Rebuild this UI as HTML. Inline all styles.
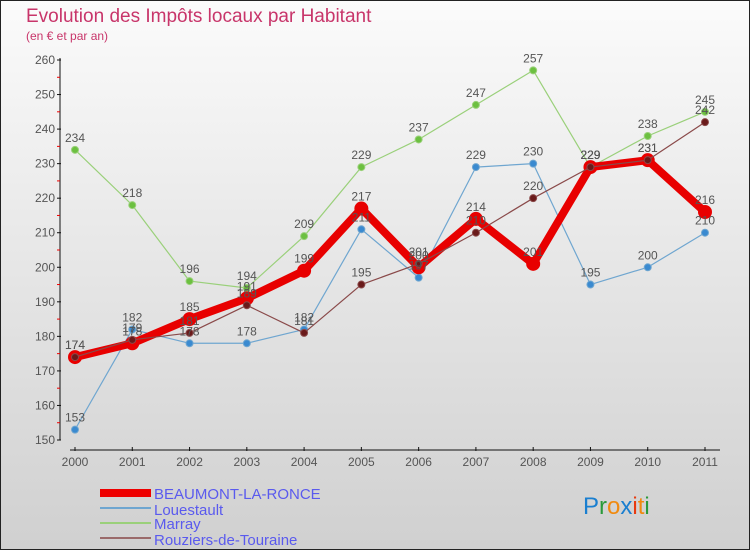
<!DOCTYPE html>
<html><head><meta charset="utf-8"><style>
html,body{margin:0;padding:0}
body{width:750px;height:550px;overflow:hidden;font-family:"Liberation Sans",sans-serif}
</style></head><body>
<svg width="750" height="550" xmlns="http://www.w3.org/2000/svg">
<defs><linearGradient id="bg" x1="0" y1="0" x2="0" y2="1"><stop offset="0" stop-color="#fbfbfb"/><stop offset="1" stop-color="#d0d0d0"/></linearGradient></defs>
<rect x="0.5" y="0.5" width="749" height="549" fill="url(#bg)" stroke="#222"/>
<text x="26" y="22" font-size="19" fill="#c8356a">Evolution des Impôts locaux par Habitant</text>
<text x="26" y="40" font-size="12" fill="#c8356a">(en € et par an)</text>
<g id="axes"></g><g id="series"></g><g id="labels"></g>
<g>
<rect x="100" y="489" width="51" height="8" fill="#e00"/>
<text x="154" y="499" font-size="15" fill="#5a5aee">BEAUMONT-LA-RONCE</text>
<rect x="100" y="507" width="51" height="2" fill="#6fa6d0"/>
<text x="154" y="515" font-size="15" fill="#5a5aee">Louestault</text>
<rect x="100" y="522" width="51" height="2" fill="#9ad07a"/>
<text x="154" y="529" font-size="15" fill="#5a5aee">Marray</text>
<rect x="100" y="537" width="51" height="2" fill="#9a6a6a"/>
<text x="154" y="545" font-size="15" fill="#5a5aee">Rouziers-de-Touraine</text>
</g>
<text x="583" y="514" font-size="24"><tspan fill="#1a7fd0">P</tspan><tspan fill="#2a9a3a">r</tspan><tspan fill="#f08a10">o</tspan><tspan fill="#1a7fd0">x</tspan><tspan fill="#e83a10">i</tspan><tspan fill="#f08a10">t</tspan><tspan fill="#2a9a3a">i</tspan></text>
</svg>
<script>
const years=["2000","2001","2002","2003","2004","2005","2006","2007","2008","2009","2010","2011"];
const yTicks=[150,160,170,180,190,200,210,220,230,240,250,260];
const beaumont=[174,178,185,191,199,217,200,214,201,229,231,216];
const louestault=[153,182,178,178,182,211,197,229,230,195,200,210];
const marray=[234,218,196,194,209,229,237,247,257,229,238,245];
const rouziers=[174,179,181,189,181,195,201,210,220,229,231,242];
const NS="http://www.w3.org/2000/svg";
function X(i){return 75+i*(630/11);}
function Y(v){return 440-(v-150)*(380/110);}
function mk(t,a,p){const e=document.createElementNS(NS,t);for(const k in a)e.setAttribute(k,a[k]);p.appendChild(e);return e;}
const ax=document.getElementById('axes'),sg=document.getElementById('series'),lg=document.getElementById('labels');
let l=mk('line',{x1:60,y1:58,x2:60,y2:440,stroke:'#111','stroke-width':1},ax);

l=mk('line',{x1:70,y1:450,x2:720,y2:450,stroke:'#111','stroke-width':1},ax);

yTicks.forEach(v=>{const y=Y(v);mk('line',{x1:57,y1:y,x2:61,y2:y,stroke:'#111'},ax);
 if(v<260)mk('line',{x1:57,y1:Y(v+5),x2:60,y2:Y(v+5),stroke:'#e00'},ax);
 const t=mk('text',{x:55,y:y+4,'font-size':12,fill:'#555','text-anchor':'end'},ax);t.textContent=v;
 });
years.forEach((yr,i)=>{const x=X(i);mk('line',{x1:x,y1:447,x2:x,y2:451,stroke:'#111'},ax);
 const t=mk('text',{x:x,y:466,'font-size':12,fill:'#555','text-anchor':'middle'},ax);t.textContent=yr;
 });
function series(d,name,col,w,r,dot){const g=mk('g',{},sg);
 const p=mk('polyline',{points:d.map((v,i)=>X(i)+','+Y(v)).join(' '),fill:'none',stroke:col,'stroke-width':w,'stroke-linejoin':'round'},g);
 
 d.forEach((v,i)=>{const c=mk('circle',{cx:X(i),cy:Y(v),r:r,fill:dot,stroke:col,'stroke-width':1},g);
  
  const t=mk('text',{x:X(i),y:Y(v)-8,'font-size':12,fill:'#555','text-anchor':'middle'},lg);t.textContent=v;
  });}
series(marray,'marray','#9ad07a',1.2,3.5,'#6cc040');
series(louestault,'louestault','#6fa6d0',1.2,3.5,'#3a8ad0');
series(beaumont,'beaumont','#e80000',8,6.5,'#e80000');
series(rouziers,'rouziers','#8a4a4a',1.2,3.5,'#6a1a1a');
</script>
</body></html>
